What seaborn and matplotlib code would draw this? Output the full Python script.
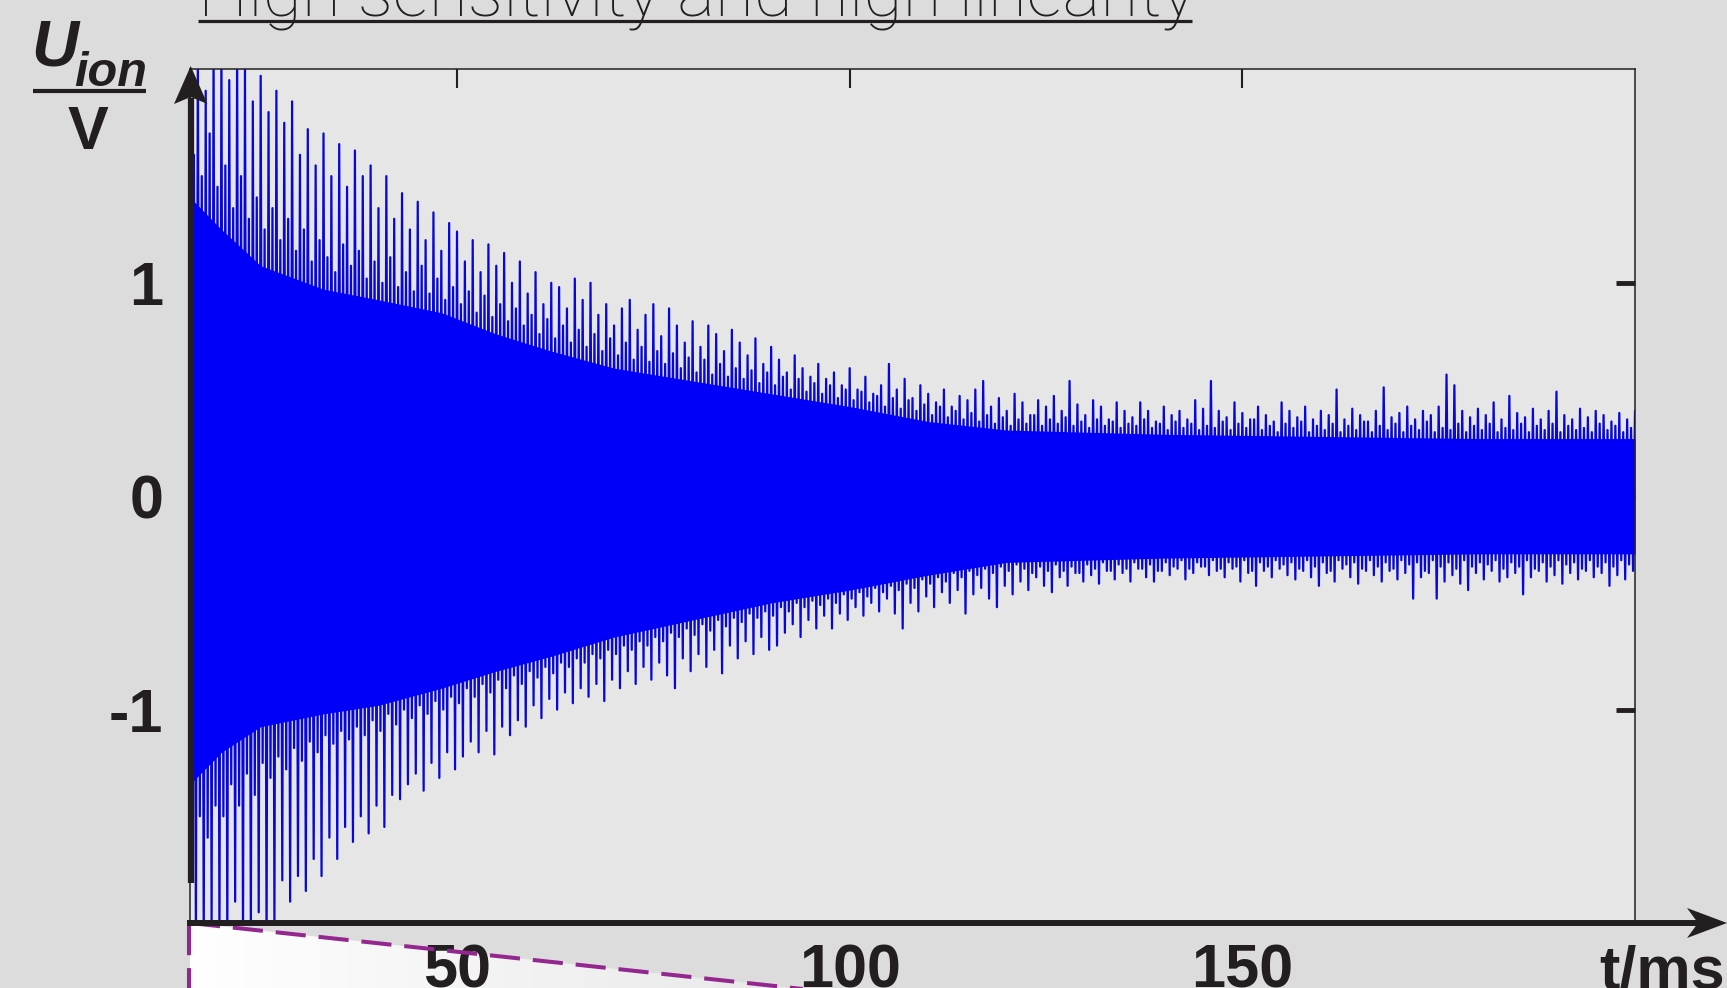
import numpy as np
import pandas as pd
import matplotlib
matplotlib.use("Agg")
import matplotlib.pyplot as plt
import seaborn as sns
from matplotlib.patches import Polygon
from matplotlib.lines import Line2D

# ---------------- data ----------------
title_text = "High sensitivity and high linearity"
y_sym, y_sub, y_unit = "U", "ion", "V"
x_label = "t/ms"
x_ticks = [50, 100, 150]
x_ticklabels = ["50", "100", "150"]
y_ticks = [-1, 0, 1]
y_ticklabels = ["-1", "0", "1"]
t_first, t_last = 16, 200          # peaks listed per ms

# main (tallest) peaks, one per ms
peak_upper = [
    2.1, 2.1, 1.9, 2.1, 2.1, 1.95, 2.1, 2.0, 1.85, 1.97,
    1.8, 1.9, 1.75, 1.85, 1.6, 1.72, 1.55, 1.7, 1.5, 1.65,
    1.45, 1.62, 1.5, 1.55, 1.35, 1.5, 1.3, 1.42, 1.25, 1.38,
    1.2, 1.33, 1.15, 1.28, 1.24, 1.1, 1.2, 1.05, 1.18, 1.08,
    1.14, 1.0, 1.1, 0.95, 1.05, 0.9, 1.0, 0.98, 0.88, 1.02,
    0.92, 1.0, 0.85, 0.9, 0.8, 0.88, 0.92, 0.78, 0.85, 0.9,
    0.75, 0.88, 0.8, 0.72, 0.82, 0.7, 0.8, 0.76, 0.68, 0.78,
    0.72, 0.66, 0.74, 0.62, 0.7, 0.64, 0.58, 0.66, 0.6, 0.56,
    0.62, 0.55, 0.58, 0.52, 0.6, 0.5, 0.56, 0.48, 0.52, 0.62,
    0.5, 0.55, 0.46, 0.52, 0.48, 0.44, 0.5, 0.42, 0.47, 0.45,
    0.5, 0.54, 0.42, 0.46, 0.4, 0.48, 0.44, 0.38, 0.45, 0.42,
    0.47, 0.4, 0.54, 0.43, 0.38, 0.45, 0.42, 0.36, 0.44, 0.4,
    0.37, 0.44, 0.4, 0.35, 0.42, 0.38, 0.4, 0.36, 0.45, 0.41,
    0.54, 0.4, 0.37, 0.44, 0.39, 0.36, 0.42, 0.38, 0.35, 0.44,
    0.4, 0.37, 0.42, 0.36, 0.4, 0.38, 0.5, 0.36, 0.41, 0.38,
    0.35, 0.4, 0.51, 0.37, 0.39, 0.42, 0.36, 0.4, 0.38, 0.42,
    0.57, 0.52, 0.4, 0.37, 0.41, 0.38, 0.44, 0.36, 0.47, 0.39,
    0.37, 0.41, 0.36, 0.4, 0.49, 0.38, 0.36, 0.41, 0.37, 0.4,
    0.38, 0.35, 0.39, 0.36, 0.4,
]
peak_lower = [
    -2.1, -2.1, -2.0, -2.1, -2.1, -1.9, -2.1, -2.05, -1.95, -2.1,
    -2.0, -1.8, -1.9, -1.78, -1.85, -1.7, -1.78, -1.6, -1.7, -1.55,
    -1.62, -1.5, -1.58, -1.45, -1.55, -1.4, -1.42, -1.35, -1.3, -1.38,
    -1.25, -1.32, -1.2, -1.28, -1.22, -1.15, -1.2, -1.1, -1.21, -1.08,
    -1.12, -1.05, -1.08, -0.98, -1.04, -0.95, -1.0, -0.92, -0.97, -0.9,
    -0.94, -0.88, -0.96, -0.86, -0.9, -0.82, -0.88, -0.8, -0.86, -0.78,
    -0.84, -0.9, -0.76, -0.82, -0.74, -0.8, -0.72, -0.83, -0.7, -0.76,
    -0.68, -0.74, -0.66, -0.72, -0.7, -0.64, -0.6, -0.66, -0.58, -0.62,
    -0.56, -0.62, -0.55, -0.58, -0.52, -0.56, -0.5, -0.54, -0.48, -0.55,
    -0.62, -0.5, -0.54, -0.47, -0.52, -0.45, -0.5, -0.44, -0.55, -0.46,
    -0.43, -0.48, -0.52, -0.42, -0.46, -0.4, -0.44, -0.38, -0.42, -0.45,
    -0.38, -0.42, -0.36, -0.4, -0.37, -0.41, -0.35, -0.39, -0.36, -0.4,
    -0.34, -0.38, -0.4, -0.35, -0.37, -0.34, -0.39, -0.36, -0.33, -0.37,
    -0.35, -0.38, -0.34, -0.4, -0.36, -0.42, -0.35, -0.38, -0.34, -0.37,
    -0.39, -0.35, -0.38, -0.42, -0.36, -0.4, -0.34, -0.38, -0.41, -0.35,
    -0.37, -0.4, -0.35, -0.39, -0.36, -0.48, -0.38, -0.36, -0.48, -0.4,
    -0.37, -0.41, -0.44, -0.36, -0.39, -0.35, -0.4, -0.38, -0.36, -0.46,
    -0.38, -0.35, -0.4, -0.37, -0.41, -0.36, -0.39, -0.35, -0.38, -0.36,
    -0.42, -0.37, -0.39, -0.35, -0.36,
]
# smaller in-between peaks, one per ms
minor_upper = [
    1.6, 1.5, 1.7, 1.45, 1.55, 1.35, 1.5, 1.3, 1.4, 1.25,
    1.35, 1.2, 1.3, 1.15, 1.25, 1.1, 1.2, 1.12, 1.05, 1.18,
    1.08, 1.15, 1.02, 1.1, 1.0, 1.12, 0.98, 1.05, 0.96, 1.08,
    0.95, 1.02, 0.92, 0.98, 0.9, 0.96, 0.86, 0.94, 0.84, 0.9,
    0.82, 0.88, 0.8, 0.85, 0.76, 0.83, 0.74, 0.8, 0.72, 0.78,
    0.7, 0.76, 0.68, 0.74, 0.66, 0.72, 0.64, 0.7, 0.63, 0.68,
    0.62, 0.67, 0.6, 0.65, 0.58, 0.64, 0.57, 0.62, 0.56, 0.6,
    0.55, 0.59, 0.53, 0.58, 0.52, 0.56, 0.5, 0.55, 0.49, 0.53,
    0.48, 0.52, 0.46, 0.5, 0.45, 0.49, 0.44, 0.47, 0.42, 0.46,
    0.41, 0.45, 0.4, 0.43, 0.38, 0.42, 0.37, 0.4, 0.36, 0.39,
    0.35, 0.38, 0.34, 0.37, 0.33, 0.36, 0.34, 0.38, 0.33, 0.36,
    0.34, 0.37, 0.33, 0.35, 0.32, 0.36, 0.33, 0.35, 0.32, 0.34,
    0.33, 0.36, 0.32, 0.34, 0.31, 0.35, 0.32, 0.34, 0.31, 0.33,
    0.32, 0.35, 0.31, 0.34, 0.32, 0.36, 0.31, 0.33, 0.3, 0.34,
    0.32, 0.35, 0.3, 0.33, 0.31, 0.34, 0.3, 0.33, 0.31, 0.35,
    0.3, 0.33, 0.31, 0.34, 0.3, 0.33, 0.31, 0.35, 0.3, 0.32,
    0.31, 0.34, 0.3, 0.33, 0.31, 0.34, 0.3, 0.32, 0.31, 0.34,
    0.3, 0.33, 0.31, 0.34, 0.3, 0.33, 0.31, 0.32, 0.3, 0.34,
    0.31, 0.33, 0.3, 0.32, 0.31,
]
minor_lower = [
    -1.65, -1.5, -1.6, -1.45, -1.5, -1.35, -1.45, -1.3, -1.4, -1.25,
    -1.32, -1.22, -1.28, -1.18, -1.24, -1.15, -1.2, -1.12, -1.16, -1.1,
    -1.14, -1.08, -1.12, -1.05, -1.1, -1.02, -1.07, -1.0, -1.04, -0.98,
    -1.02, -0.96, -1.0, -0.94, -0.97, -0.9, -0.94, -0.88, -0.92, -0.86,
    -0.9, -0.84, -0.88, -0.82, -0.85, -0.8, -0.83, -0.78, -0.8, -0.76,
    -0.78, -0.74, -0.76, -0.72, -0.74, -0.7, -0.72, -0.68, -0.7, -0.66,
    -0.68, -0.64, -0.66, -0.62, -0.65, -0.6, -0.63, -0.58, -0.61, -0.57,
    -0.59, -0.55, -0.57, -0.54, -0.56, -0.52, -0.54, -0.5, -0.52, -0.49,
    -0.51, -0.48, -0.5, -0.46, -0.48, -0.45, -0.47, -0.43, -0.45, -0.42,
    -0.44, -0.41, -0.43, -0.39, -0.41, -0.38, -0.4, -0.36, -0.38, -0.35,
    -0.37, -0.34, -0.36, -0.33, -0.35, -0.32, -0.34, -0.36, -0.33, -0.35,
    -0.32, -0.35, -0.33, -0.36, -0.32, -0.34, -0.31, -0.35, -0.32, -0.34,
    -0.31, -0.34, -0.32, -0.35, -0.31, -0.33, -0.3, -0.34, -0.31, -0.33,
    -0.3, -0.34, -0.31, -0.33, -0.3, -0.35, -0.31, -0.33, -0.3, -0.32,
    -0.31, -0.34, -0.3, -0.33, -0.31, -0.35, -0.3, -0.32, -0.31, -0.34,
    -0.3, -0.33, -0.31, -0.34, -0.3, -0.32, -0.31, -0.35, -0.3, -0.33,
    -0.31, -0.34, -0.3, -0.33, -0.31, -0.32, -0.3, -0.34, -0.31, -0.33,
    -0.3, -0.34, -0.31, -0.33, -0.3, -0.32, -0.31, -0.34, -0.3, -0.33,
    -0.31, -0.33, -0.3, -0.32, -0.31,
]
core_t = [16, 20, 25, 33, 40, 48, 55, 62, 70, 80, 90, 100, 110, 120, 130, 140, 160, 180, 200]
core_upper = [1.4, 1.25, 1.08, 0.97, 0.92, 0.86, 0.76, 0.68, 0.6, 0.54, 0.48, 0.42, 0.35,
              0.31, 0.3, 0.29, 0.28, 0.27, 0.27]
core_lower = [-1.35, -1.2, -1.08, -1.02, -0.98, -0.9, -0.82, -0.75, -0.66, -0.58, -0.5,
              -0.44, -0.37, -0.31, -0.3, -0.29, -0.28, -0.27, -0.27]

# ---------------- styling ----------------
W, H = 1727, 988
INK = "#231f20"
sns.set_theme(style="white")
plt.rcParams["font.family"] = ["Liberation Sans", "DejaVu Sans"]

fig = plt.figure(figsize=(W / 100, H / 100), dpi=100, facecolor="#dcdcdc")

AX_L, AX_R, AX_T, AX_B = 190.0, 1635.0, 69.4, 923.0
ax = fig.add_axes([AX_L / W, 1 - AX_B / H, (AX_R - AX_L) / W, (AX_B - AX_T) / H])
ax.set_zorder(1)
ax.set_facecolor("#e6e6e6")

# alternating up/down samples: main-up, minor-down, minor-up, main-down in each ms
t = np.arange(t_first, t_last + 1)
zz_t = np.column_stack([t, t + 0.25, t + 0.5, t + 0.75]).ravel()
zz_v = np.column_stack([peak_upper, minor_lower, minor_upper, peak_lower]).ravel()
df = pd.DataFrame({"t": zz_t, "u": zz_v})
sns.lineplot(data=df, x="t", y="u", sort=False, estimator=None,
             color="#0707dc", linewidth=1.6, ax=ax, zorder=2)
ax.fill_between(core_t, core_lower, core_upper, color="#0000f8", lw=0, zorder=3)

ax.set_xlim(t_first, t_last)
ax.set_ylim(-2, 2)
ax.set_xlabel("")
ax.set_ylabel("")
ax.set_xticks(x_ticks, x_ticklabels, fontsize=44, fontweight="bold", color=INK)
ax.set_yticks(y_ticks, y_ticklabels, fontsize=44, fontweight="bold", color=INK)
ax.tick_params(axis="both", direction="in", length=14, width=3.5, color=INK,
               top=True, right=True, labeltop=False, labelright=False)
ax.tick_params(axis="x", pad=15)
ax.tick_params(axis="y", pad=19)
for tk in ax.xaxis.get_major_ticks():
    tk.tick2line.set_markeredgewidth(1.5)
for s in ax.spines.values():
    s.set_color(INK)
    s.set_linewidth(1.1)
    s.set_zorder(5)

# ---------------- decorations in pixel coordinates ----------------
def overlay(z):
    a = fig.add_axes([0, 0, 1, 1], zorder=z)
    a.set_xlim(0, W)
    a.set_ylim(H, 0)
    a.axis("off")
    a.patch.set_alpha(0)
    return a

bg = overlay(0)
fg = overlay(2)

# white gradient zoom wedge below the axis
slope = 65.0 / 603.5
x_end = AX_L + (H - AX_B) / slope
grad = np.linspace(0, 1, 256)[None, :]
lo = np.array([1.0, 1.0, 1.0])
hi = np.array([0.91, 0.91, 0.91])
gcol = lo + (hi - lo) * grad[..., None]
im = bg.imshow(gcol, extent=(AX_L, x_end, H, AX_B), aspect="auto", zorder=1)
wedge = Polygon([(AX_L, AX_B), (x_end, H), (AX_L, H)], closed=True,
                transform=bg.transData, facecolor="none", edgecolor="none")
bg.add_patch(wedge)
im.set_clip_path(wedge)

purple = "#93278f"
fg.add_line(Line2D([AX_L, x_end + 30], [AX_B, H + 30 * slope], color=purple, lw=2.9,
                   linestyle=(0, (7.5, 3.2)), zorder=3))
fg.add_line(Line2D([AX_L - 0.5, AX_L - 0.5], [AX_B + 2, H + 5], color=purple, lw=2.9,
                   linestyle=(0, (7.5, 3.2)), zorder=3))

# x axis arrow
fg.add_line(Line2D([AX_L - 3, 1698], [AX_B, AX_B], color=INK, lw=4.3,
                   solid_capstyle="butt", zorder=4))
fg.add_patch(Polygon([(1727, AX_B), (1687, AX_B - 15), (1698, AX_B), (1687, AX_B + 15)],
                     closed=True, facecolor=INK, edgecolor="none", zorder=4))
# y axis arrow
fg.add_line(Line2D([AX_L + 0.7, AX_L + 0.7], [883, 98], color=INK, lw=4.5,
                   solid_capstyle="butt", zorder=4))
fg.add_patch(Polygon([(AX_L + 0.7, 66), (AX_L - 16, 104), (AX_L + 0.7, 97), (AX_L + 17.5, 104)],
                     closed=True, facecolor=INK, edgecolor="none", zorder=4))

# axis labels
fg.text(1725, 944, x_label, ha="right", va="top", fontsize=44, fontweight="bold", color=INK)
fg.text(31, 66, y_sym, ha="left", va="baseline", fontsize=47, fontweight="bold",
        fontstyle="italic", color=INK)
fg.text(74, 86, y_sub, ha="left", va="baseline", fontsize=35, fontweight="bold",
        fontstyle="italic", color=INK)
fg.add_line(Line2D([33, 146], [91, 91], color=INK, lw=3.0, solid_capstyle="butt"))
fg.text(88, 149, y_unit, ha="center", va="baseline", fontsize=44, fontweight="bold", color=INK)

# title (cut off at the top of the picture), fitted to its width
TX0, TX1 = 198, 1192
title = fg.text(TX0, 15, title_text, ha="left", va="baseline", fontsize=40,
                fontweight="light", family=["Roboto", "Lato", "DejaVu Sans"], color=INK)
fig.canvas.draw()
bb = title.get_window_extent()
title.set_fontsize(40 * (TX1 - TX0) / bb.width)
fg.add_line(Line2D([TX0, TX1], [21, 21], color=INK, lw=2.3, solid_capstyle="butt"))

fig.savefig("out.png", dpi=100, facecolor=fig.get_facecolor())
